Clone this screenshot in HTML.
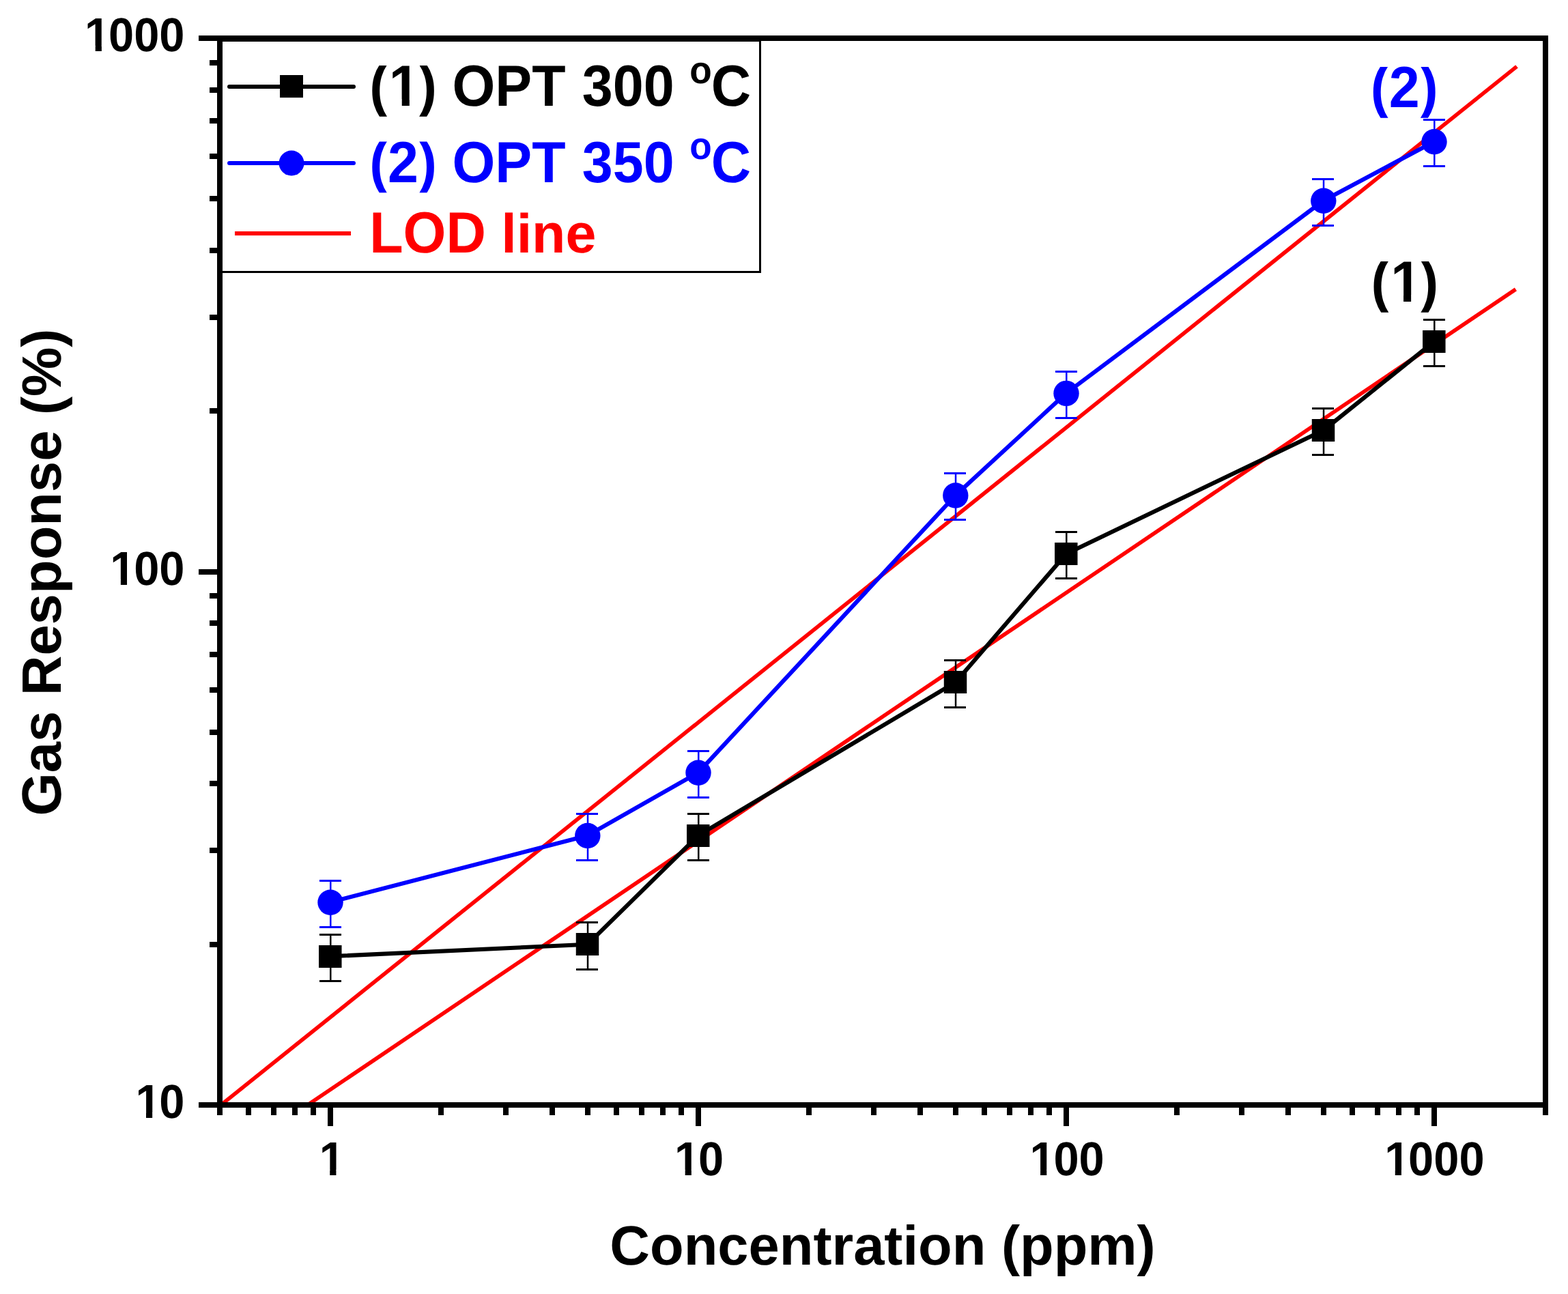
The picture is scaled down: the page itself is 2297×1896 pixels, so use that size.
<!DOCTYPE html>
<html lang="en"><head><meta charset="utf-8"><title>Gas Response vs Concentration</title>
<style>
html,body{margin:0;padding:0;background:#fff;}
body{width:2297px;height:1896px;overflow:hidden;}
svg{display:block;}
text{font-family:"Liberation Sans", sans-serif;font-weight:bold;font-kerning:none;text-rendering:geometricPrecision;}
</style></head><body>
<svg width="2297" height="1896" viewBox="0 0 2297 1896">
<rect x="0" y="0" width="2297" height="1896" fill="#ffffff"/>
<defs><clipPath id="plotclip"><rect x="322" y="56" width="1942" height="1563"/></clipPath></defs>
<g clip-path="url(#plotclip)" stroke="#ff0000" stroke-width="5.7" fill="none" stroke-linecap="butt">
<line x1="323.6" y1="1619" x2="2222" y2="97.4"/>
<line x1="450.6" y1="1619" x2="2220.4" y2="423.8"/>
</g>
<text transform="translate(2007.80 157) scale(1 1.055)" font-size="80.8" text-anchor="start" fill="#0000ff">(2)</text>
<g fill="#ffffff"><rect x="2011.42" y="93.73" width="23.60" height="4.27"/><rect x="2011.42" y="172.80" width="23.60" height="3.39"/><rect x="2079.32" y="93.73" width="23.60" height="4.27"/><rect x="2079.32" y="172.80" width="23.60" height="3.39"/></g>
<text transform="translate(2008.50 442) scale(1 1.055)" dx="0 1.78 -1.78" font-size="80.8" text-anchor="start" fill="#000000">(1)</text>
<g fill="#ffffff"><rect x="2041.27" y="432.50" width="14.77" height="10.50"/><rect x="2067.13" y="432.50" width="13.74" height="10.50"/><rect x="2012.12" y="378.73" width="23.60" height="4.27"/><rect x="2012.12" y="457.80" width="23.60" height="3.39"/><rect x="2080.02" y="378.73" width="23.60" height="4.27"/><rect x="2080.02" y="457.80" width="23.60" height="3.39"/></g>
<polyline points="484.0,1401.2 860.8,1383.7 1023.0,1224.2 1399.8,999.7 1562.0,811.4 1938.8,630.5 2101.0,500.4" fill="none" stroke="#000000" stroke-width="6.1" stroke-linejoin="round" stroke-linecap="round"/>
<g fill="#000000" shape-rendering="crispEdges">
<rect x="483.01" y="1368" width="2.5" height="71" shape-rendering="auto"/>
<rect x="468" y="1368" width="32" height="3"/>
<rect x="468" y="1436" width="32" height="3"/>
<rect x="859.76" y="1350" width="2.5" height="72" shape-rendering="auto"/>
<rect x="844" y="1350" width="32" height="3"/>
<rect x="844" y="1419" width="32" height="3"/>
<rect x="1022.02" y="1191" width="2.5" height="71" shape-rendering="auto"/>
<rect x="1007" y="1191" width="32" height="3"/>
<rect x="1007" y="1259" width="32" height="3"/>
<rect x="1398.77" y="966" width="2.5" height="72" shape-rendering="auto"/>
<rect x="1383" y="966" width="32" height="3"/>
<rect x="1383" y="1035" width="32" height="3"/>
<rect x="1561.03" y="778" width="2.5" height="71" shape-rendering="auto"/>
<rect x="1546" y="778" width="32" height="3"/>
<rect x="1546" y="846" width="32" height="3"/>
<rect x="1937.78" y="597" width="2.5" height="71" shape-rendering="auto"/>
<rect x="1922" y="597" width="32" height="3"/>
<rect x="1922" y="665" width="32" height="3"/>
<rect x="2100.04" y="467" width="2.5" height="71" shape-rendering="auto"/>
<rect x="2085" y="467" width="32" height="3"/>
<rect x="2085" y="535" width="32" height="3"/>
</g>
<g fill="#000000" shape-rendering="crispEdges">
<rect x="467.01" y="1385" width="33.5" height="33" shape-rendering="auto"/>
<rect x="843.76" y="1367" width="33.5" height="33" shape-rendering="auto"/>
<rect x="1006.02" y="1208" width="33.5" height="33" shape-rendering="auto"/>
<rect x="1382.77" y="983" width="33.5" height="33" shape-rendering="auto"/>
<rect x="1545.03" y="795" width="33.5" height="33" shape-rendering="auto"/>
<rect x="1921.78" y="614" width="33.5" height="33" shape-rendering="auto"/>
<rect x="2084.04" y="484" width="33.5" height="33" shape-rendering="auto"/>
</g>
<polyline points="484.0,1321.9 860.8,1224.2 1023.0,1131.9 1399.8,725.7 1562.0,576.1 1938.8,294.0 2101.0,207.5" fill="none" stroke="#0000ff" stroke-width="6.1" stroke-linejoin="round" stroke-linecap="round"/>
<g fill="#0000ff" shape-rendering="crispEdges">
<rect x="483.01" y="1289" width="2.5" height="71" shape-rendering="auto"/>
<rect x="468" y="1289" width="32" height="3"/>
<rect x="468" y="1357" width="32" height="3"/>
<rect x="859.76" y="1191" width="2.5" height="71" shape-rendering="auto"/>
<rect x="844" y="1191" width="32" height="3"/>
<rect x="844" y="1259" width="32" height="3"/>
<rect x="1022.02" y="1099" width="2.5" height="71" shape-rendering="auto"/>
<rect x="1007" y="1099" width="32" height="3"/>
<rect x="1007" y="1167" width="32" height="3"/>
<rect x="1398.77" y="692" width="2.5" height="71" shape-rendering="auto"/>
<rect x="1383" y="692" width="32" height="3"/>
<rect x="1383" y="760" width="32" height="3"/>
<rect x="1561.03" y="543" width="2.5" height="71" shape-rendering="auto"/>
<rect x="1546" y="543" width="32" height="3"/>
<rect x="1546" y="611" width="32" height="3"/>
<rect x="1937.78" y="261" width="2.5" height="71" shape-rendering="auto"/>
<rect x="1922" y="261" width="32" height="3"/>
<rect x="1922" y="329" width="32" height="3"/>
<rect x="2100.04" y="174" width="2.5" height="71" shape-rendering="auto"/>
<rect x="2085" y="174" width="32" height="3"/>
<rect x="2085" y="242" width="32" height="3"/>
</g>
<g fill="#0000ff">
<circle cx="484.0" cy="1322.2" r="18.7"/>
<circle cx="860.8" cy="1224.5" r="18.7"/>
<circle cx="1023.0" cy="1132.2" r="18.7"/>
<circle cx="1399.8" cy="726.0" r="18.7"/>
<circle cx="1562.0" cy="576.4" r="18.7"/>
<circle cx="1938.8" cy="294.3" r="18.7"/>
<circle cx="2101.0" cy="207.8" r="18.7"/>
</g>
<g fill="#000000" shape-rendering="crispEdges">
<rect x="291" y="52" width="1977" height="8"/>
<rect x="291" y="1615" width="1977" height="8"/>
<rect x="318" y="52" width="8" height="1582"/>
<rect x="2260" y="52" width="8" height="1582"/>
<rect x="307" y="1380" width="11" height="8"/>
<rect x="307" y="1242" width="11" height="8"/>
<rect x="307" y="1144" width="11" height="8"/>
<rect x="307" y="1069" width="11" height="8"/>
<rect x="307" y="1007" width="11" height="8"/>
<rect x="307" y="955" width="11" height="8"/>
<rect x="307" y="909" width="11" height="8"/>
<rect x="307" y="869" width="11" height="8"/>
<rect x="291" y="834" width="27" height="8"/>
<rect x="307" y="598" width="11" height="8"/>
<rect x="307" y="461" width="11" height="8"/>
<rect x="307" y="363" width="11" height="8"/>
<rect x="307" y="287" width="11" height="8"/>
<rect x="307" y="225" width="11" height="8"/>
<rect x="307" y="173" width="11" height="8"/>
<rect x="307" y="128" width="11" height="8"/>
<rect x="307" y="88" width="11" height="8"/>
<rect x="360" y="1623" width="8" height="11"/>
<rect x="397" y="1623" width="8" height="11"/>
<rect x="428" y="1623" width="8" height="11"/>
<rect x="455" y="1623" width="8" height="11"/>
<rect x="480" y="1623" width="8" height="27"/>
<rect x="642" y="1623" width="8" height="11"/>
<rect x="737" y="1623" width="8" height="11"/>
<rect x="805" y="1623" width="8" height="11"/>
<rect x="857" y="1623" width="8" height="11"/>
<rect x="899" y="1623" width="8" height="11"/>
<rect x="936" y="1623" width="8" height="11"/>
<rect x="967" y="1623" width="8" height="11"/>
<rect x="994" y="1623" width="8" height="11"/>
<rect x="1019" y="1623" width="8" height="27"/>
<rect x="1181" y="1623" width="8" height="11"/>
<rect x="1276" y="1623" width="8" height="11"/>
<rect x="1344" y="1623" width="8" height="11"/>
<rect x="1396" y="1623" width="8" height="11"/>
<rect x="1438" y="1623" width="8" height="11"/>
<rect x="1475" y="1623" width="8" height="11"/>
<rect x="1506" y="1623" width="8" height="11"/>
<rect x="1533" y="1623" width="8" height="11"/>
<rect x="1558" y="1623" width="8" height="27"/>
<rect x="1720" y="1623" width="8" height="11"/>
<rect x="1815" y="1623" width="8" height="11"/>
<rect x="1883" y="1623" width="8" height="11"/>
<rect x="1935" y="1623" width="8" height="11"/>
<rect x="1977" y="1623" width="8" height="11"/>
<rect x="2014" y="1623" width="8" height="11"/>
<rect x="2045" y="1623" width="8" height="11"/>
<rect x="2072" y="1623" width="8" height="11"/>
<rect x="2097" y="1623" width="8" height="27"/>
</g>
<text transform="translate(121.90 75) scale(1 1.045)" dx="2.22 -2.22" font-size="66.8" text-anchor="start" fill="#000000">1000</text>
<g fill="#ffffff"><rect x="127.32" y="67.08" width="12.38" height="8.92"/><rect x="148.87" y="67.08" width="11.54" height="8.92"/></g>
<text transform="translate(159.05 857) scale(1 1.045)" dx="2.22 -2.22" font-size="66.8" text-anchor="start" fill="#000000">100</text>
<g fill="#ffffff"><rect x="164.47" y="849.08" width="12.38" height="8.92"/><rect x="186.02" y="849.08" width="11.54" height="8.92"/></g>
<text transform="translate(196.20 1638) scale(1 1.045)" dx="2.22 -2.22" font-size="66.8" text-anchor="start" fill="#000000">10</text>
<g fill="#ffffff"><rect x="201.62" y="1630.08" width="12.38" height="8.92"/><rect x="223.17" y="1630.08" width="11.54" height="8.92"/></g>
<text transform="translate(465.43 1722) scale(1 1.045)" dx="2.22" font-size="66.8" text-anchor="start" fill="#000000">1</text>
<g fill="#ffffff"><rect x="470.86" y="1714.08" width="12.38" height="8.92"/><rect x="492.41" y="1714.08" width="11.54" height="8.92"/></g>
<text transform="translate(985.87 1722) scale(1 1.045)" dx="2.22 -2.22" font-size="66.8" text-anchor="start" fill="#000000">10</text>
<g fill="#ffffff"><rect x="991.29" y="1714.08" width="12.38" height="8.92"/><rect x="1012.84" y="1714.08" width="11.54" height="8.92"/></g>
<text transform="translate(1506.30 1722) scale(1 1.045)" dx="2.22 -2.22" font-size="66.8" text-anchor="start" fill="#000000">100</text>
<g fill="#ffffff"><rect x="1511.73" y="1714.08" width="12.38" height="8.92"/><rect x="1533.28" y="1714.08" width="11.54" height="8.92"/></g>
<text transform="translate(2025.94 1722) scale(1 1.045)" dx="2.22 -2.22" font-size="66.8" text-anchor="start" fill="#000000">1000</text>
<g fill="#ffffff"><rect x="2031.37" y="1714.08" width="12.38" height="8.92"/><rect x="2052.91" y="1714.08" width="11.54" height="8.92"/></g>
<text transform="translate(1293 1853)" font-size="81.3" text-anchor="middle" fill="#000000">Concentration (ppm)</text>
<text transform="translate(89.3 838.5) rotate(-90)" font-size="81.3" text-anchor="middle" fill="#000000">Gas Response (%)</text>
<rect x="324.5" y="59.5" width="789" height="339" fill="#ffffff" stroke="#000000" stroke-width="3" shape-rendering="crispEdges"/>
<rect x="318" y="52" width="8" height="400" fill="#000" shape-rendering="crispEdges"/>
<rect x="318" y="52" width="900" height="8" fill="#000" shape-rendering="crispEdges"/>
<line x1="336" y1="127" x2="518" y2="127" stroke="#000000" stroke-width="6" stroke-linecap="round"/>
<rect x="410" y="110" width="34" height="33" fill="#000000" shape-rendering="crispEdges"/>
<line x1="336" y1="239" x2="518" y2="239" stroke="#0000ff" stroke-width="6" stroke-linecap="round"/>
<circle cx="427" cy="239" r="18.5" fill="#0000ff"/>
<rect x="344" y="339" width="170" height="6" fill="#ff0000" shape-rendering="crispEdges"/>
<text transform="translate(541.20 155) scale(1 1.055)" dx="0 1.78 -1.78" font-size="80.8" text-anchor="start" fill="#000000">(1)</text>
<g fill="#ffffff"><rect x="573.97" y="145.50" width="14.77" height="10.50"/><rect x="599.83" y="145.50" width="13.74" height="10.50"/><rect x="544.82" y="91.73" width="23.60" height="4.27"/><rect x="544.82" y="170.80" width="23.60" height="3.39"/><rect x="612.72" y="91.73" width="23.60" height="4.27"/><rect x="612.72" y="170.80" width="23.60" height="3.39"/></g>
<text transform="translate(662.4 155) scale(1 1.055)" dx="0 0 0 0 1.9" font-size="80.8" text-anchor="start" fill="#000000">OPT 300 <tspan font-size="53.2" dy="-31.6">o</tspan><tspan dx="-0.9" dy="31.6">C</tspan></text>
<text transform="translate(541.20 266.5) scale(1 1.055)" font-size="80.8" text-anchor="start" fill="#0000ff">(2)</text>
<g fill="#ffffff"><rect x="544.82" y="203.23" width="23.60" height="4.27"/><rect x="544.82" y="282.30" width="23.60" height="3.39"/><rect x="612.72" y="203.23" width="23.60" height="4.27"/><rect x="612.72" y="282.30" width="23.60" height="3.39"/></g>
<text transform="translate(662.4 266.5) scale(1 1.055)" dx="0 0 0 0 1.9" font-size="80.8" text-anchor="start" fill="#0000ff">OPT 350 <tspan font-size="53.2" dy="-31.6">o</tspan><tspan dx="-0.9" dy="31.6">C</tspan></text>
<text transform="translate(541.2 370) scale(1 1.055)" font-size="80.8" text-anchor="start" fill="#ff0000">LOD</text>
<text transform="translate(734.205 370)" font-size="80.8" text-anchor="start" fill="#ff0000">line</text>
</svg>
</body></html>
